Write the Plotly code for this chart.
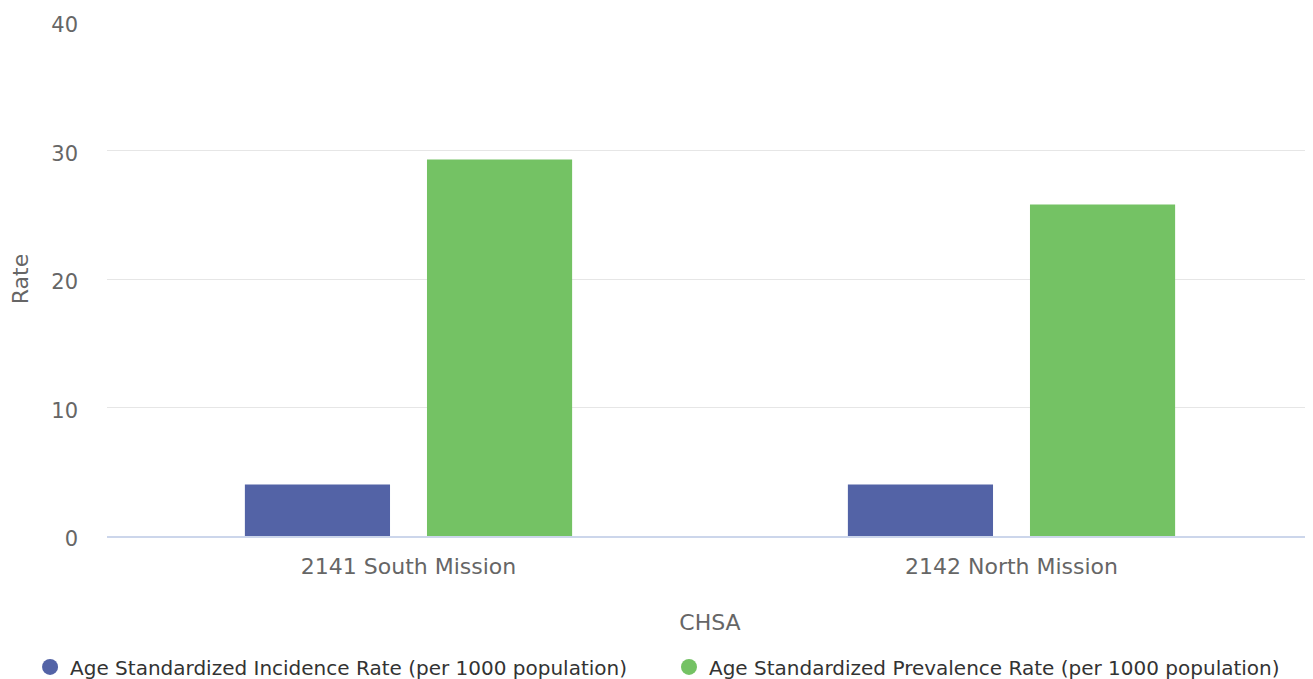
import plotly.graph_objects as go

categories = ["2141 South Mission", "2142 North Mission"]
incidence = [4.0, 4.0]
prevalence = [29.3, 25.8]
series_names = ["Age Standardized Incidence Rate (per 1000 population)",
                "Age Standardized Prevalence Rate (per 1000 population)"]
colors = ["#5363a6", "#74c264"]
y_ticks = [0, 10, 20, 30, 40]

FONT = "DejaVu Sans, Verdana, sans-serif"

fig = go.Figure()
for vals, name, col in [(incidence, series_names[0], colors[0]), (prevalence, series_names[1], colors[1])]:
    fig.add_trace(go.Bar(x=categories, y=vals, name=name, marker_color=col,
                         marker_line_width=0, showlegend=False, legendgroup=name))
# legend-only entries with circle markers, one legend box each
for i, (name, col) in enumerate(zip(series_names, colors)):
    fig.add_trace(go.Scatter(x=[None], y=[None], mode="markers", name=name, legendgroup=name,
                             legend="legend" if i == 0 else "legend2",
                             marker=dict(symbol="circle", size=17, color=col)))

legend_common = dict(orientation="h", xref="container", xanchor="left",
                     yref="container", y=0.018, yanchor="middle",
                     font=dict(family=FONT, size=20, color="#333333"),
                     itemsizing="trace", bgcolor="rgba(0,0,0,0)")

fig.update_layout(
    width=1305, height=671,
    margin=dict(l=99, r=0, t=14, b=143, autoexpand=False),
    paper_bgcolor="white", plot_bgcolor="white",
    barmode="group", bargap=0.396, bargroupgap=0.203,
    font=dict(family=FONT, color="#666666", size=20),
    showlegend=True,
    legend=dict(x=0.0169, **legend_common),
    legend2=dict(x=0.5065, **legend_common),
    xaxis=dict(
        showline=True, linecolor="#ccd6eb", linewidth=1.5,
        showgrid=False, ticks="", tickfont=dict(size=22, color="#666666"),
        tickangle=0, automargin=False, ticklabelstandoff=10,
        title=dict(text="CHSA", font=dict(size=22, color="#666666"), standoff=36),
    ),
    yaxis=dict(
        range=[0, 40], tickvals=y_ticks, showgrid=True, gridcolor="#e6e6e6", gridwidth=1,
        zeroline=False, showline=False, ticks="", ticklabelstandoff=28, ticklabelshift=3,
        automargin=False,
        tickfont=dict(size=21, color="#666666"),
        title=dict(text="Rate", font=dict(size=22, color="#666666"), standoff=20),
    ),
)

fig.write_html("out.html")
